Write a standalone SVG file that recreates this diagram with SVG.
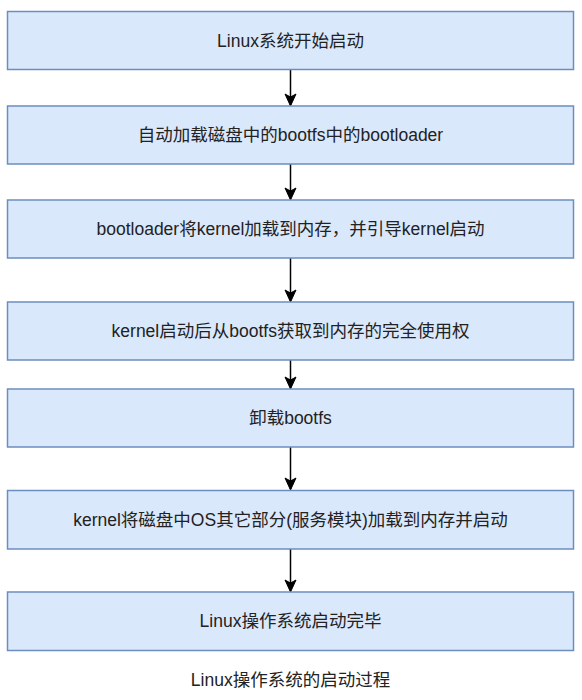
<svg xmlns="http://www.w3.org/2000/svg" width="582" height="700" viewBox="0 0 582 700">
<style>
.box{fill:#dae8fc;stroke:#6c8ebf;stroke-width:1.5}
.t{font-family:"Liberation Sans","Noto Sans CJK SC",sans-serif;font-size:17.5px;fill:#222;text-anchor:middle;dominant-baseline:central}
.c{stroke:#000;stroke-width:1.5;fill:none}
.ah{fill:#000;stroke:#000;stroke-width:1}
</style>
<g id="connectors">
<path class="c" d="M290.5,69.5 V105" />
<path class="ah" d="M290.5,106 L285,94 L290.5,97 L296,94 Z"/>
<path class="c" d="M290.5,164 V199" />
<path class="ah" d="M290.5,200 L285,188 L290.5,191 L296,188 Z"/>
<path class="c" d="M290.5,258 V301" />
<path class="ah" d="M290.5,302 L285,290 L290.5,293 L296,290 Z"/>
<path class="c" d="M290.5,360 V388" />
<path class="ah" d="M290.5,389 L285,377 L290.5,380 L296,377 Z"/>
<path class="c" d="M290.5,447 V489" />
<path class="ah" d="M290.5,490 L285,478 L290.5,481 L296,478 Z"/>
<path class="c" d="M290.5,549 V591" />
<path class="ah" d="M290.5,592 L285,580 L290.5,583 L296,580 Z"/>
</g>
<g id="n1"><rect class="box" x="7.5" y="11.5" width="566" height="58"/><text class="t" x="290.5" y="40.5">Linux系统开始启动</text></g>
<g id="n2"><rect class="box" x="7.5" y="106" width="566" height="58"/><text class="t" x="290.5" y="135">自动加载磁盘中的bootfs中的bootloader</text></g>
<g id="n3"><rect class="box" x="7.5" y="200" width="566" height="58"/><text class="t" x="290.5" y="229">bootloader将kernel加载到内存，并引导kernel启动</text></g>
<g id="n4"><rect class="box" x="7.5" y="302" width="566" height="58"/><text class="t" x="290.5" y="331">kernel启动后从bootfs获取到内存的完全使用权</text></g>
<g id="n5"><rect class="box" x="7.5" y="389" width="566" height="58"/><text class="t" x="290.5" y="418">卸载bootfs</text></g>
<g id="n6"><rect class="box" x="7.5" y="490.5" width="566" height="58.5"/><text class="t" x="290.5" y="520">kernel将磁盘中OS其它部分(服务模块)加载到内存并启动</text></g>
<g id="n7"><rect class="box" x="7.5" y="592" width="566" height="58.5"/><text class="t" x="290.5" y="621">Linux操作系统启动完毕</text></g>
<g id="caption"><text class="t" x="290.5" y="680">Linux操作系统的启动过程</text></g>
</svg>
